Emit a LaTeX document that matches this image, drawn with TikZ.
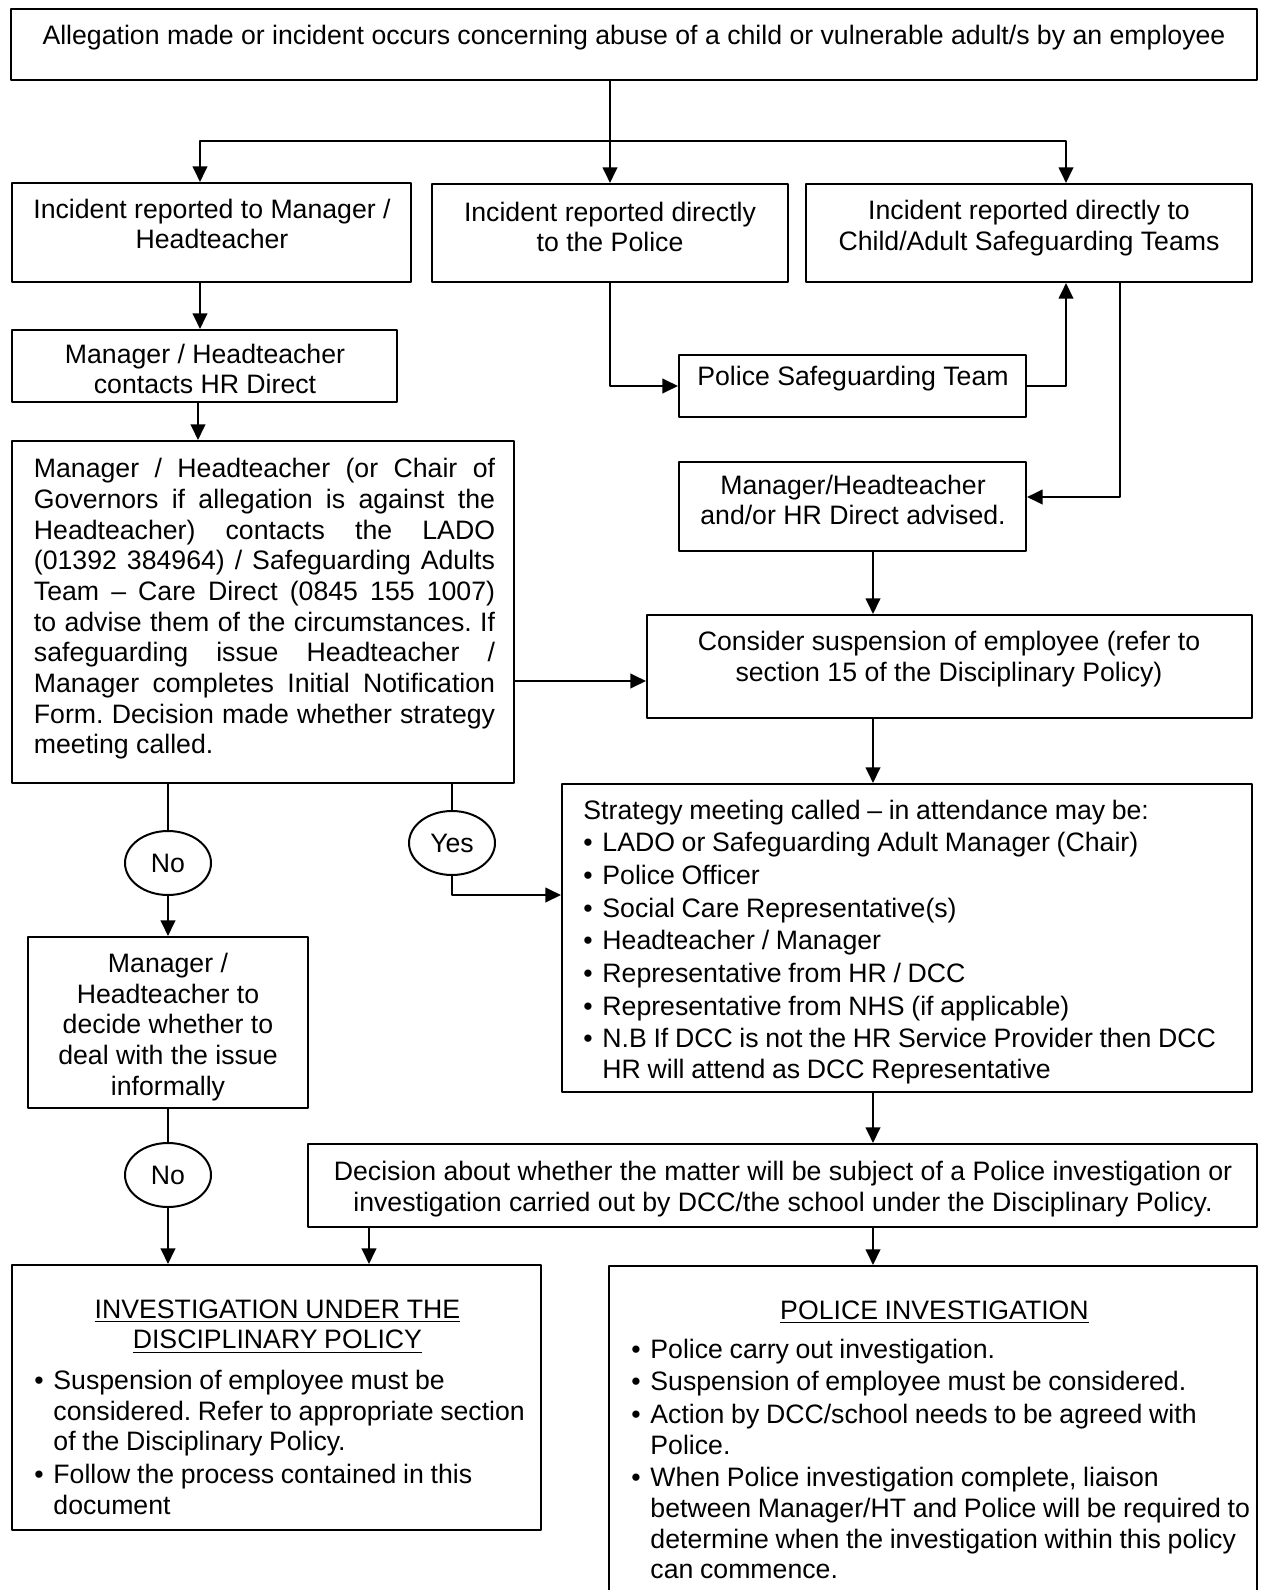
\documentclass[tikz,border=0pt]{standalone}
\usepackage{fontspec}
\setmainfont{Liberation Sans}
\usetikzlibrary{arrows.meta,shapes.geometric,fit}
\frenchspacing
\newdimen\pxu
\pxu=0.45pt
\newlength{\bulind}
\newcommand{\bul}{\par\vspace{0.9pt}\hangindent=\bulind\hangafter=1\noindent\makebox[\bulind][l]{\textbullet}}
\newcommand{\bulsetup}{\setlength{\bulind}{19\pxu}\spaceskip=3pt plus 1.3pt minus 0.9pt\relax}
\tikzset{
	box/.style={draw, line width=0.9pt, inner sep=0pt},
	txt/.style={inner sep=0pt, align=center},
	para/.style={inner sep=0pt, anchor=west, align=left, text width=#1},
	oval/.style={draw, ellipse, line width=0.9pt, inner sep=0pt, minimum width=86*\pxu, minimum height=64*\pxu},
	wire/.style={line width=1pt}
}
\begin{document}
\begin{tikzpicture}[x=0.45pt, y=-0.45pt, font=\fontsize{12}{13.8}\selectfont, line join=round, line cap=round, >={Triangle[length=7pt, width=6.5pt]}]
			\useasboundingbox (0,0) rectangle (1264,1590);
			\node[box, fit={(11,9) (1257,80)}] (alleg) {};
			\node[box, fit={(12,183) (411,282)}] (repmgr) {};
			\node[box, fit={(432,184) (788,282)}] (reppol) {};
			\node[box, fit={(806,184) (1252,282)}] (repteam) {};
			\node[box, fit={(12,330) (397,402)}] (hrdir) {};
			\node[box, fit={(12,441) (514,783)}] (lado) {};
			\node[box, fit={(679,355) (1026,417)}] (polteam) {};
			\node[box, fit={(679,462) (1026,551)}] (advised) {};
			\node[box, fit={(647,615) (1252,718)}] (suspend) {};
			\node[box, fit={(562,784) (1252,1092)}] (strategy) {};
			\node[box, fit={(28,937) (308,1108)}] (informal) {};
			\node[box, fit={(308,1144) (1257,1227)}] (decision) {};
			\node[box, fit={(12,1265) (541,1530)}] (discinv) {};
			\node[box, fit={(609,1266) (1257,1600)}] (polinv) {};
			\node[oval] (no1) at (168,863) {No};
			\node[oval] (yes) at (452,843) {Yes};
			\node[oval] (no2) at (168,1175) {No};
			\node[txt] (alleg-t) at (634,38) {Allegation made or incident occurs concerning abuse of a child or vulnerable adult/s by an employee};
			\node[txt] (repmgr-t) at (212,224) {Incident reported to Manager /\\Headteacher};
			\node[txt] (reppol-t) at (610,227) {Incident reported directly\\to the Police};
			\node[txt] (repteam-t) at (1029,228) {Incident reported directly to\\Child/Adult Safeguarding Teams};
			\node[txt] (hrdir-t) at (205,369) {Manager / Headteacher\\contacts HR Direct};
			\node[para=207.5pt, align=justify] (lado-t) at (33.5,609) {\noindent Manager / Headteacher (or Chair of\linebreak Governors if allegation is against the\linebreak Headteacher) contacts the LADO\linebreak (01392 384964) / Safeguarding Adults\linebreak Team – Care Direct (0845 155 1007)\linebreak to advise them of the circumstances. If\linebreak safeguarding issue Headteacher /\linebreak Manager completes Initial Notification\linebreak Form. Decision made whether strategy\linebreak meeting called.\par};
			\node[txt] (polteam-t) at (853,379) {Police Safeguarding Team};
			\node[txt] (advised-t) at (853,500) {Manager/Headteacher\\and/or HR Direct advised.};
			\node[txt] (suspend-t) at (949,659) {Consider suspension of employee (refer to\\section 15 of the Disciplinary Policy)};
			\node[para=297pt] (strategy-t) at (583,942) {\bulsetup\noindent Strategy meeting called – in attendance may be:
				\bul LADO or Safeguarding Adult Manager (Chair)
				\bul Police Officer
				\bul Social Care Representative(s)
				\bul Headteacher / Manager
				\bul Representative from HR / DCC
				\bul Representative from NHS (if applicable)
				\bul N.B If DCC is not the HR Service Provider then DCC\newline HR will attend as DCC Representative\par};
			\node[txt] (informal-t) at (168,1027) {Manager /\\Headteacher to\\decide whether to\\deal with the issue\\informally};
			\node[txt] (decision-t) at (783,1189) {Decision about whether the matter will be subject of a Police investigation or\\investigation carried out by DCC/the school under the Disciplinary Policy.};
			\node[para=230pt] (discinv-t) at (34,1407) {\bulsetup\noindent\makebox[486\pxu]{\underline{INVESTIGATION UNDER THE}}\par
				\noindent\makebox[486\pxu]{\underline{DISCIPLINARY POLICY}}\par\vspace{3.6pt}%
				\bul Suspension of employee must be\newline considered. Refer to appropriate section\newline of the Disciplinary Policy.
				\bul Follow the process contained in this\newline document\par};
			\node[para=300pt] (polinv-t) at (631,1440) {\bulsetup\noindent\makebox[606\pxu]{\underline{POLICE INVESTIGATION}}\par\vspace{2.7pt}%
				\bul Police carry out investigation.
				\bul Suspension of employee must be considered.
				\bul Action by DCC/school needs to be agreed with\newline Police.
				\bul When Police investigation complete, liaison\newline between Manager/HT and Police will be required to\newline determine when the investigation within this policy\newline can commence.\par};
			\coordinate (split) at (610,141);
			\draw[wire] (alleg.south -| split) -- (split);
			\draw[wire,->] (split) -- (split |- reppol.north);
			\draw[wire,->] (split) -| (200,0 |- repmgr.north);
			\draw[wire,->] (split) -| (1066,0 |- repteam.north);
			\draw[wire,->] (200,0 |- repmgr.south) -- (200,0 |- hrdir.north);
			\draw[wire,->] (198,0 |- hrdir.south) -- (198,0 |- lado.north);
			\draw[wire,->] (610,0 |- reppol.south) |- (polteam.west);
			\draw[wire,->] (polteam.east) -| (1066,0 |- repteam.south);
			\draw[wire,->] (1120,0 |- repteam.south) |- (advised.east |- 0,497);
			\draw[wire,->] (873,0 |- advised.south) -- (873,0 |- suspend.north);
			\draw[wire,->] (lado.east |- 0,681) -- (suspend.west |- 0,681);
			\draw[wire,->] (873,0 |- suspend.south) -- (873,0 |- strategy.north);
			\draw[wire] (no1.north |- lado.south) -- (no1.north);
			\draw[wire,->] (no1.south) -- (no1.south |- informal.north);
			\draw[wire] (yes.north |- lado.south) -- (yes.north);
			\draw[wire,->] (yes.south) |- (strategy.west |- 0,895);
			\draw[wire] (no2.north |- informal.south) -- (no2.north);
			\draw[wire,->] (no2.south) -- (no2.south |- discinv.north);
			\draw[wire,->] (873,0 |- strategy.south) -- (873,0 |- decision.north);
			\draw[wire,->] (369,0 |- decision.south) -- (369,0 |- discinv.north);
			\draw[wire,->] (873,0 |- decision.south) -- (873,0 |- polinv.north);
\end{tikzpicture}
\end{document}
